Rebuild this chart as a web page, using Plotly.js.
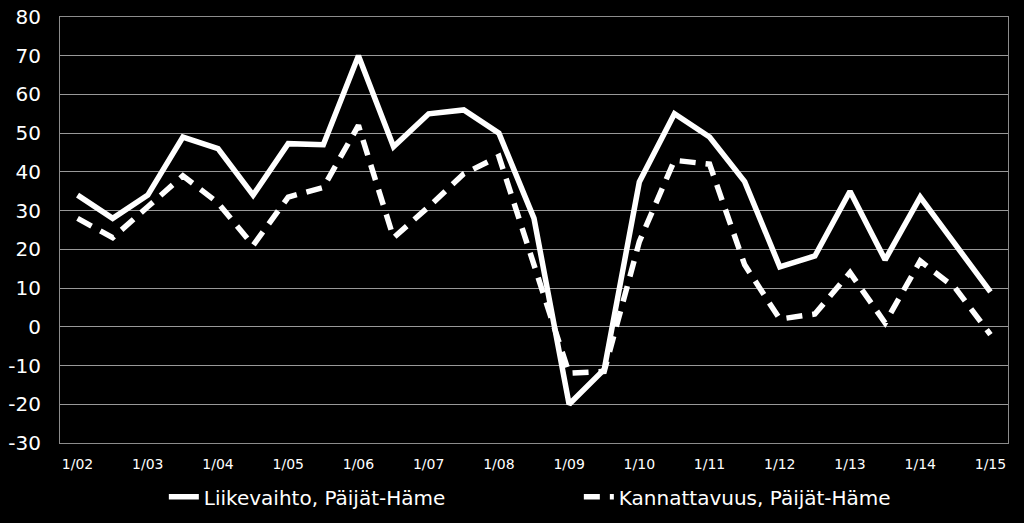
<!DOCTYPE html>
<html>
<head>
<meta charset="utf-8">
<script src="https://cdn.plot.ly/plotly-3.0.1.min.js"></script>
<style>
  html, body { margin: 0; padding: 0; background: #000; }
  #myChart { width: 1024px; height: 523px; }
</style>
</head>
<body>
<div id="myChart"></div>
<script>
// half-year periods 1/02 ... 1/15
let periods = ["1/02","7/02","1/03","7/03","1/04","7/04","1/05","7/05","1/06","7/06",
  "1/07","7/07","1/08","7/08","1/09","7/09","1/10","7/10","1/11","7/11",
  "1/12","7/12","1/13","7/13","1/14","7/14","1/15"];

let liikevaihto = [34, 28, 34, 49, 46, 34, 47.3, 47, 70, 46.5,
  55, 56, 50, 28, -20, -11, 37.4, 55, 49, 37.5,
  15.5, 18.3, 35, 17.3, 33.5, 21.5, 9];

let kannattavuus = [28, 23, 31, 39, 32, 21, 33.5, 36, 52, 23,
  31, 39.5, 44, 16, -12, -11.5, 22, 43, 42, 16,
  2, 3.3, 14, 1, 17, 10, -2];

// only the January labels are shown on the axis
let tickLabels = periods.filter((p, i) => i % 2 === 0);

// y ticks, written with a plain hyphen like the original
let yTickVals = [-30, -20, -10, 0, 10, 20, 30, 40, 50, 60, 70, 80];
let yTickText = yTickVals.map(function(v) { return String(v); });

let seriesNames = ["Liikevaihto, Päijät-Häme", "Kannattavuus, Päijät-Häme"];

const fontName = "DejaVu Sans, Verdana, sans-serif";

const data = [{
    x: periods,
    y: liikevaihto,
    name: seriesNames[0],
    mode: "lines",
    line: {color: "#ffffff", width: 5.5}
  }, {
    x: periods,
    y: kannattavuus,
    name: seriesNames[1],
    mode: "lines",
    line: {color: "#ffffff", width: 5.5, dash: "16px,10px"}
}];

// Define Layout
const layout = {
    width: 1024,
    height: 523,
    paper_bgcolor: "#000000",
    plot_bgcolor: "#000000",
    margin: {l: 60, r: 16, t: 17, b: 80},
    font: {family: fontName, color: "#ffffff"},
    showlegend: true,
    legend: {
      orientation: "h",
      xref: "container",
      yref: "container",
      x: 0.16,
      xanchor: "left",
      y: 0.05,
      yanchor: "middle",
      entrywidth: 370,
      font: {size: 20, color: "#ffffff", family: fontName},
      bgcolor: "rgba(0,0,0,0)"
    },
    xaxis: {
      type: "category",
      categoryorder: "array",
      categoryarray: periods,
      tickvals: tickLabels,
      ticktext: tickLabels,
      range: [-0.5, periods.length - 0.5],
      showgrid: false,
      showline: true,
      mirror: true,
      linecolor: "#8c8c8c",
      linewidth: 1,
      ticks: "",
      ticklabelstandoff: 8,
      tickfont: {size: 14, color: "#ffffff"},
      zeroline: false
    },
    yaxis: {
      range: [-30, 80],
      tickvals: yTickVals,
      ticktext: yTickText,
      showgrid: true,
      gridcolor: "#999999",
      gridwidth: 1,
      showline: true,
      mirror: true,
      linecolor: "#8c8c8c",
      linewidth: 1,
      zeroline: false,
      ticks: "",
      ticklabelstandoff: 14,
      tickfont: {size: 20, color: "#ffffff"}
    }
};

const config = {responsive: false, displayModeBar: false};

// Display using Plotly
Plotly.newPlot("myChart", data, layout, config);
</script>
</body>
</html>
